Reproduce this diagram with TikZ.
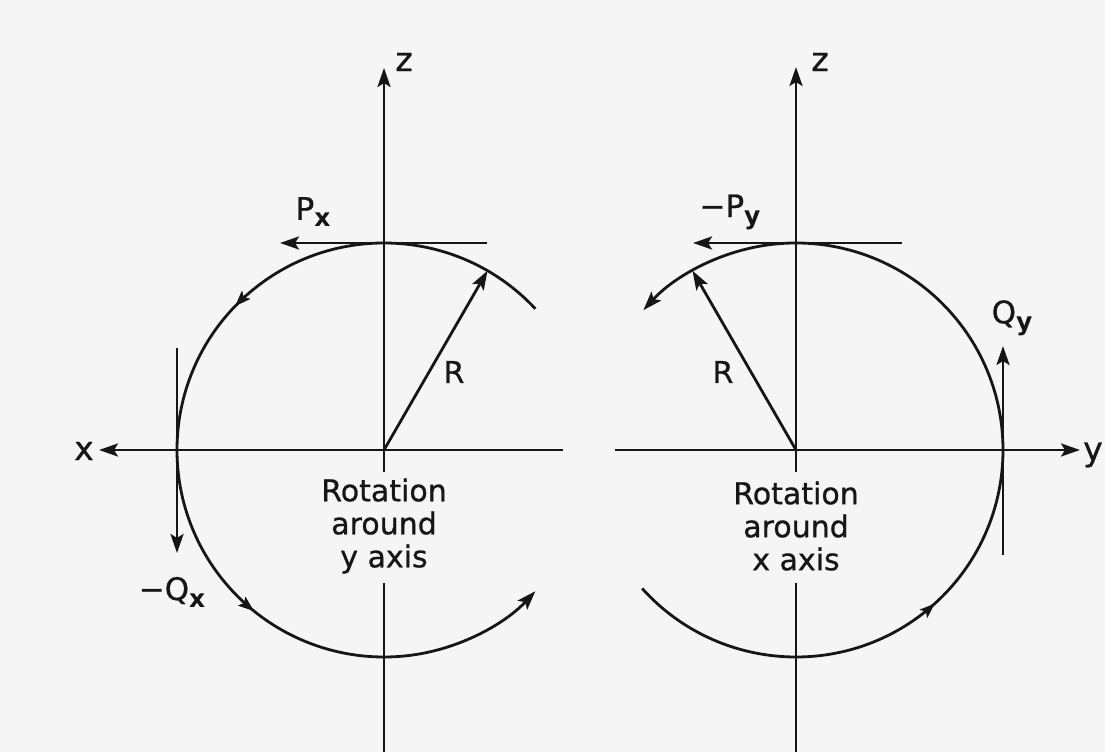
\documentclass[tikz,border=0pt]{standalone}
\usepackage{fontspec}
\setmainfont{DejaVu Sans}[UprightFeatures={FakeBold=0.8}]
\usetikzlibrary{arrows.meta,decorations.markings,calc}
\definecolor{bgc}{RGB}{245,245,245}
\definecolor{ink}{RGB}{22,22,22}
\newcommand{\mylbl}[2]{{\fontsize{31}{31}\selectfont #1}{\fontsize{25}{25}\selectfont\raisebox{-7pt}{\textbf{#2}}}}
\begin{document}
\begin{tikzpicture}[x=1pt,y=1pt,
  line/.style={draw=ink, line width=2.8pt},
  arr/.style={-{Stealth[length=19pt,width=13pt,inset=4pt]}},
  midarr/.style={postaction={decorate}, decoration={markings,
     mark=at position #1 with {\arrow[ink]{Stealth[length=15pt,width=11pt,inset=3pt]}}}},
  axislbl/.style={font=\fontsize{33}{33}\selectfont, inner sep=0pt, text=ink},
  lbl/.style={inner sep=0pt, text=ink},
  rlbl/.style={font=\fontsize{30}{30}\selectfont, inner sep=0pt, text=ink},
  caption/.style={align=center, font=\fontsize{30}{33}\selectfont, inner sep=0pt, text=ink}]
\fill[bgc] (0,0) rectangle (1105,752);
\useasboundingbox (0,0) rectangle (1105,752);

% ---------------- left diagram: rotation around y axis
\coordinate (C1) at (384,302);
\coordinate (zTop1) at (384,684);
\coordinate (zStub1) at (384,280);
\coordinate (zLow1) at (384,169);
\coordinate (zBot1) at (384,0);
\coordinate (hR1) at (563,302);
\coordinate (hL1) at (99,302);
\coordinate (tanR1) at (487,509);
\coordinate (tanL1) at (280,509);
\coordinate (vT1) at (177,404);
\coordinate (vB1) at (177,199);
\coordinate (Rend1) at ($(C1)+(60:207)$);

\node[axislbl] (zlab1) at (404,690) {z};
\node[axislbl] (xlab1) at (84,301) {x};
\node[lbl] (Px) at (313,540) {\mylbl{P}{x}};
\node[lbl] (Qx) at (172,160) {\mylbl{−Q}{x}};
\node[rlbl] (Rlab1) at (454,380) {R};
\node[caption] (cap1) at (384,226) {Rotation\\around\\y axis};

\draw[line, arr] (zStub1) -- (zTop1);
\draw[line] (zLow1) -- (zBot1);
\draw[line, arr] (hR1) -- (hL1);
\draw[line, arr] (tanR1) -- (tanL1);
\draw[line, arr] (vT1) -- (vB1);
\draw[line, arr] (C1) -- (Rend1);
\draw[line, arr, midarr=0.339, midarr=0.686]
  ([shift={(43:207)}]C1) arc[start angle=43, end angle=317, radius=207pt];

% ---------------- right diagram: rotation around x axis
\coordinate (C2) at (796,302);
\coordinate (zTop2) at (796,685);
\coordinate (zStub2) at (796,280);
\coordinate (zLow2) at (796,169);
\coordinate (zBot2) at (796,0);
\coordinate (hL2) at (615,302);
\coordinate (hR2) at (1080,302);
\coordinate (tanR2) at (902,509);
\coordinate (tanL2) at (693,509);
\coordinate (vB2) at (1003,197);
\coordinate (vT2) at (1003,406);
\coordinate (Rend2) at ($(C2)+(120:207)$);

\node[axislbl] (zlab2) at (820,690) {z};
\node[axislbl] (ylab2) at (1093,297) {y};
\node[lbl] (Py) at (730,540) {\mylbl{−P}{y}};
\node[lbl] (Qy) at (1012,434) {\mylbl{Q}{y}};
\node[rlbl] (Rlab2) at (723,380) {R};
\node[caption] (cap2) at (796,226) {Rotation\\around\\x axis};

\draw[line, arr] (zStub2) -- (zTop2);
\draw[line] (zLow2) -- (zBot2);
\draw[line, arr] (hL2) -- (hR2);
\draw[line, arr] (tanR2) -- (tanL2);
\draw[line, arr] (vB2) -- (vT2);
\draw[line, arr] (C2) -- (Rend2);
\draw[line, arr, midarr=0.327]
  ([shift={(222:207)}]C2) arc[start angle=222, end angle=497.5, radius=207pt];
\end{tikzpicture}
\end{document}
